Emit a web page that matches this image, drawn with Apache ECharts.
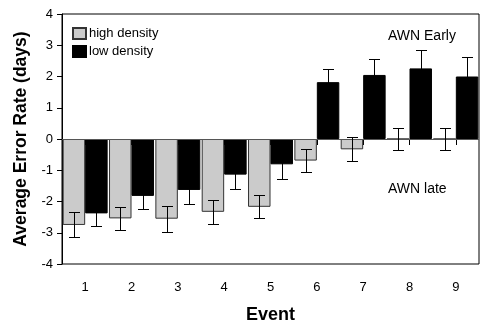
<!DOCTYPE html>
<html>
<head>
<meta charset="utf-8">
<script src="https://cdn.jsdelivr.net/npm/echarts@6/dist/echarts.min.js"></script>
<style>
  html, body { margin: 0; padding: 0; background: #fff; }
  #chart { width: 485px; height: 324px; }
</style>
</head>
<body>
<div id="chart"></div>
<script>
  // values
  var events = ['1', '2', '3', '4', '5', '6', '7', '8', '9'];
  var highDensity = [-2.75, -2.54, -2.55, -2.33, -2.17, -0.69, -0.33, 0.0, 0.0];
  var highErr = [0.40, 0.37, 0.42, 0.39, 0.37, 0.36, 0.38, 0.36, 0.35];
  var lowDensity = [-2.38, -1.82, -1.63, -1.14, -0.81, 1.82, 2.05, 2.26, 2.00];
  var lowErr = [0.40, 0.43, 0.44, 0.45, 0.47, 0.43, 0.51, 0.58, 0.63];

  var BAR_W = 0.485; // share of the category band per bar

  var font = 'Liberation Sans, Arial, Helvetica, sans-serif';

  function errData(vals, errs) {
    return vals.map(function (v, i) { return [i, v, errs[i]]; });
  }

  // error bars, shifted left (-1) or right (+1) onto their bar
  function errorRender(side) {
    return function (params, api) {
      var idx = api.value(0);
      var mid = api.value(1);
      var e = api.value(2);
      var band = api.size([1, 0])[0];
      var hi = api.coord([idx, mid + e]);
      var lo = api.coord([idx, mid - e]);
      var x = Math.round(hi[0] + side * band * BAR_W / 2) + 0.5;
      var y1 = Math.round(hi[1]) + 0.5;
      var y2 = Math.round(lo[1]) + 0.5;
      var cap = 5.5;
      var st = { stroke: '#000', lineWidth: 1 };
      return {
        type: 'group',
        children: [
          { type: 'line', shape: { x1: x, y1: y1, x2: x, y2: y2 }, style: st },
          { type: 'line', shape: { x1: x - cap, y1: y1, x2: x + cap, y2: y1 }, style: st },
          { type: 'line', shape: { x1: x - cap, y1: y2, x2: x + cap, y2: y2 }, style: st }
        ]
      };
    };
  }

  var myChart = echarts.init(document.getElementById('chart'));
  var option = {
    animation: false,
    backgroundColor: '#fff',
    textStyle: { fontFamily: font, color: '#000' },
    grid: {
      left: 62, right: 6, top: 14, bottom: 60,
      outerBoundsMode: 'none',
      containLabel: false,
      show: true, borderColor: '#000', borderWidth: 1, backgroundColor: 'transparent'
    },
    legend: {
      orient: 'vertical',
      left: 67, top: 22,
      itemWidth: 13, itemHeight: 11, itemGap: 5,
      icon: 'rect',
      textStyle: { fontFamily: font, fontSize: 13, color: '#000', padding: [0, 0, 0, -2] },
      data: ['high density', 'low density']
    },
    graphic: [
      { type: 'text', left: 388, top: 29, style: { text: 'AWN Early', font: '14px ' + font, fill: '#000' } },
      { type: 'text', left: 388, top: 182, style: { text: 'AWN late', font: '14px ' + font, fill: '#000' } }
    ],
    xAxis: {
      type: 'category',
      data: events,
      name: 'Event',
      nameLocation: 'middle',
      nameGap: 42,
      nameTextStyle: { fontFamily: font, fontSize: 18, fontWeight: 'bold', color: '#000' },
      axisLine: { show: false },
      axisTick: { show: true, alignWithLabel: true, length: 6, lineStyle: { color: '#000' } },
      axisLabel: { fontFamily: font, fontSize: 13, color: '#000', margin: 17 },
      splitLine: { show: false }
    },
    yAxis: {
      type: 'value',
      min: -4, max: 4, interval: 1,
      name: 'Average Error Rate (days)',
      nameLocation: 'middle',
      nameGap: 26,
      nameTextStyle: { fontFamily: font, fontSize: 17.5, fontWeight: 'bold', color: '#000' },
      axisLine: { show: true, lineStyle: { color: '#000' } },
      axisTick: { show: true, length: 5, lineStyle: { color: '#000' } },
      axisLabel: { fontFamily: font, fontSize: 13, color: '#000', margin: 9 },
      splitLine: { show: false }
    },
    series: [
      {
        name: 'high density',
        type: 'bar',
        data: highDensity,
        barWidth: (BAR_W * 100) + '%',
        barGap: '0%',
        itemStyle: { color: '#cbcbcb', borderColor: '#333', borderWidth: 1 },
        markLine: {
          silent: true, symbol: 'none', label: { show: false },
          lineStyle: { color: '#555', width: 1, type: 'solid' },
          data: [{ yAxis: 0 }]
        }
      },
      {
        name: 'low density',
        type: 'bar',
        data: lowDensity,
        barWidth: (BAR_W * 100) + '%',
        barGap: '0%',
        itemStyle: { color: '#000', borderColor: '#000', borderWidth: 1 }
      },
      {
        type: 'custom',
        renderItem: errorRender(-1),
        data: errData(highDensity, highErr),
        encode: { x: 0, y: 1 },
        z: 5, silent: true
      },
      {
        type: 'custom',
        renderItem: errorRender(1),
        data: errData(lowDensity, lowErr),
        encode: { x: 0, y: 1 },
        z: 5, silent: true
      }
    ]
  };
  myChart.setOption(option);
</script>
</body>
</html>
